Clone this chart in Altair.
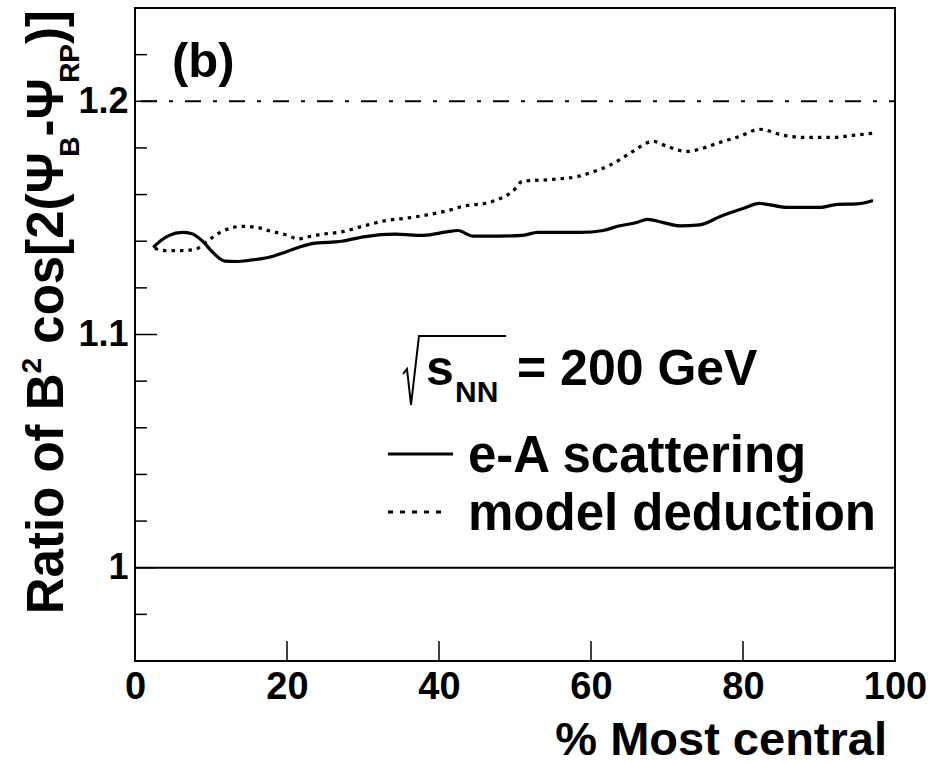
import altair as alt
import pandas as pd

# ---- data ----
ea_x = [2.4, 3.5, 4.5, 6.2, 7.5, 8.9, 10.3, 11.8, 13.5, 15.0, 17.5, 20.0, 23.3, 27.2, 30.3,
        34.2, 38.0, 41.0, 42.5, 44.5, 48.0, 51.0, 53.0, 58.6, 61.6, 63.5, 66.0, 67.4, 69.5,
        71.7, 74.3, 77.0, 80.0, 82.2, 85.8, 90.1, 92.4, 95.0, 97.1]
ea_y = [1.1373, 1.1405, 1.1425, 1.1438, 1.1432, 1.1400, 1.1350, 1.1315, 1.1313, 1.1318,
        1.1330, 1.1356, 1.1390, 1.1400, 1.1420, 1.1430, 1.1425, 1.1440, 1.1446, 1.1422,
        1.1422, 1.1425, 1.1438, 1.1438, 1.1446, 1.1464, 1.1480, 1.1494, 1.1480, 1.1466,
        1.1470, 1.1506, 1.1540, 1.1562, 1.1545, 1.1545, 1.1558, 1.1560, 1.1575]

md_x = [2.6, 4.0, 6.0, 7.9, 9.5, 11.2, 12.5, 14.1, 16.0, 17.5, 20.1, 21.4, 23.0, 24.6, 27.2,
        29.9, 33.3, 36.0, 38.8, 41.0, 43.2, 46.7, 48.5, 49.7, 51.0, 55.0, 58.6, 60.5, 62.1,
        63.8, 65.5, 68.2, 70.0, 72.6, 74.8, 77.0, 79.6, 82.2, 85.3, 88.4, 91.8, 94.5, 97.1]
md_y = [1.1370, 1.1360, 1.1360, 1.1365, 1.1400, 1.1438, 1.1455, 1.1464, 1.1460, 1.1446,
        1.1425, 1.1410, 1.1420, 1.1430, 1.1440, 1.1464, 1.1490, 1.1500, 1.1515, 1.1530,
        1.1550, 1.1567, 1.1590, 1.1614, 1.1657, 1.1665, 1.1680, 1.1700, 1.1720, 1.1750,
        1.1785, 1.1828, 1.1807, 1.1785, 1.1800, 1.1824, 1.1850, 1.1880, 1.1854, 1.1845,
        1.1845, 1.1854, 1.1863]

x_major = [20, 40, 60, 80]
x_labels = [0, 20, 40, 60, 80, 100]
y_major = [1.0, 1.1, 1.2]
y_minor = [0.98, 1.02, 1.04, 1.06, 1.08, 1.12, 1.14, 1.16, 1.18, 1.22]

FONT = "Liberation Sans"
W, H = 760, 653
XD = [0, 100]
YD = [0.96, 1.24]

ea = pd.DataFrame({"x": ea_x, "y": ea_y})
md = pd.DataFrame({"x": md_x, "y": md_y})

xs = alt.Scale(domain=XD, nice=False, zero=False)
ys = alt.Scale(domain=YD, nice=False, zero=False)

base_x = alt.X("x:Q", scale=xs,
               axis=alt.Axis(values=x_labels, title=None, ticks=False, domain=False, grid=False,
                             labelFont=FONT, labelFontSize=38, labelFontWeight="bold",
                             labelColor="black", labelPadding=7, labelFlush=False))
base_y = alt.Y("y:Q", scale=ys,
               axis=alt.Axis(values=y_major, format=".1~f", title=None, ticks=False, domain=False,
                             grid=False, labelFont=FONT, labelFontSize=36, labelFontWeight="bold",
                             labelColor="black", labelPadding=7, labelFlush=False))

line_ea = alt.Chart(ea).mark_line(color="black", strokeWidth=3.2, interpolate="monotone").encode(
    x=base_x, y=base_y)
line_md = alt.Chart(md).mark_line(color="black", strokeWidth=3.2, strokeDash=[3.5, 5],
                                  interpolate="monotone").encode(
    x=alt.X("x:Q", scale=xs), y=alt.Y("y:Q", scale=ys))

ref1 = alt.Chart(pd.DataFrame({"y": [1.0]})).mark_rule(color="black", strokeWidth=2).encode(
    y=alt.Y("y:Q", scale=ys), x=alt.value(0), x2=alt.value(W))
ref12 = alt.Chart(pd.DataFrame({"y": [1.2]})).mark_rule(color="black", strokeWidth=2,
                                                        strokeDash=[16, 12, 4, 12]).encode(
    y=alt.Y("y:Q", scale=ys), x=alt.value(6), x2=alt.value(W))

ytick_major = alt.Chart(pd.DataFrame({"y": y_major})).mark_rule(color="black", strokeWidth=1.5).encode(
    y=alt.Y("y:Q", scale=ys), x=alt.value(0), x2=alt.value(22))
ytick_minor = alt.Chart(pd.DataFrame({"y": y_minor})).mark_rule(color="black", strokeWidth=1.5).encode(
    y=alt.Y("y:Q", scale=ys), x=alt.value(0), x2=alt.value(12))
xtick_major = alt.Chart(pd.DataFrame({"x": x_major})).mark_rule(color="black", strokeWidth=1.5).encode(
    x=alt.X("x:Q", scale=xs), y=alt.value(H), y2=alt.value(H - 20))

# ---- annotations (pixel positions relative to plot origin at (135, 8)) ----
OX, OY = 135, 8


def txt(s, px, py, size, align="left", angle=0, baseline="alphabetic"):
    return alt.Chart(pd.DataFrame({"t": [s]})).mark_text(
        font=FONT, fontWeight="bold", fontSize=size, color="black", align=align,
        baseline=baseline, angle=angle).encode(
        text="t:N", x=alt.value(px - OX), y=alt.value(py - OY))


annots = [
    txt("(b)", 172, 77, 49),
    txt("s", 426, 385, 50),
    txt("NN", 455, 402, 30),
    txt("= 200 GeV", 517, 385, 50),
    txt("e-A scattering", 468, 472, 51),
    txt("model deduction", 468, 530, 51),
    txt("% Most central", 887, 755, 47, align="right"),
]

# radical sign for sqrt(s_NN)
rad = pd.DataFrame({"px": [403 - OX, 407 - OX, 411 - OX, 419 - OX, 506 - OX],
                    "py": [374 - OY, 369 - OY, 405 - OY, 336 - OY, 336 - OY],
                    "o": [0, 1, 2, 3, 4]})
radical = alt.Chart(rad).mark_line(color="black", strokeWidth=2).encode(
    x=alt.X("px:Q", scale=None), y=alt.Y("py:Q", scale=None), order="o:O")

# legend samples
leg_solid = alt.Chart(pd.DataFrame({"a": [0]})).mark_rule(color="black", strokeWidth=3.2).encode(
    x=alt.value(388 - OX), x2=alt.value(453 - OX), y=alt.value(454 - OY))
leg_dot = alt.Chart(pd.DataFrame({"a": [0]})).mark_rule(color="black", strokeWidth=3.2,
                                                        strokeDash=[5, 7]).encode(
    x=alt.value(388 - OX), x2=alt.value(448 - OX), y=alt.value(512 - OY))

# rotated y-axis title built from pieces (reads bottom to top)
S, SS = 51, 28
pieces = [
    ("Ratio of B", S, 0, 4.722 * S),
    ("2", SS, -22, 0.556 * SS + 0.278 * S),
    ("cos[2(\u03a8", S, 0, 2.945 * S + 0.72 * S),
    ("B", SS, 16, 0.722 * SS),
    ("-\u03a8", S, 0, 0.333 * S + 0.72 * S),
    ("RP", SS, 16, 1.389 * SS),
    (")]", S, 0, 0.666 * S),
]
total = sum(p[3] for p in pieces)
base_px = 63
ycur = 10 + total
title_layers = []
for s, size, shift, w in pieces:
    title_layers.append(txt(s, base_px + shift, ycur, size, angle=270))
    ycur -= w

chart = alt.layer(
    ref1, ref12, ytick_major, ytick_minor, xtick_major, line_md, line_ea,
    leg_solid, leg_dot, radical, *annots, *title_layers
).properties(
    width=W, height=H,
    autosize=alt.AutoSizeParams(type="none"),
    padding={"left": OX, "top": OY, "right": 931 - OX - W, "bottom": 764 - OY - H},
    background="white",
).configure_view(stroke="black", strokeWidth=2)

chart.save("out.html", embed_options={"renderer": "svg", "actions": False})
